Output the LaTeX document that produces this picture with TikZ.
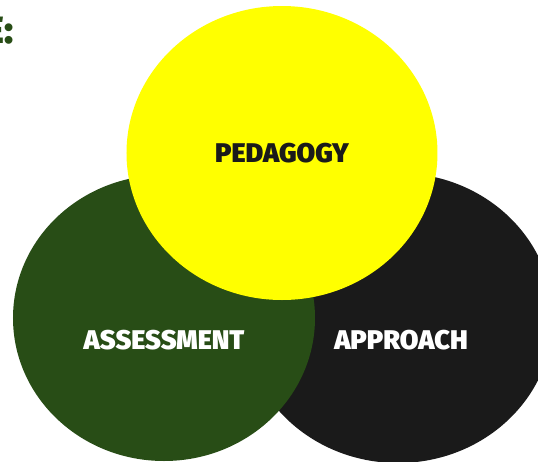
\documentclass[tikz,border=0pt]{standalone}
\usepackage{fontspec}
\setmainfont{Fira Sans}[BoldFont={Fira Sans Black}]
\usetikzlibrary{positioning,shapes.geometric}
\definecolor{sun}{HTML}{FFFF00}
\definecolor{moss}{HTML}{284D16}
\definecolor{ink}{HTML}{1A1A1A}

\begin{document}
\begin{tikzpicture}[x=0.5pt, y=-0.5pt,
      blob/.style={ellipse, inner sep=0pt, draw=none},
      lbl/.style={font=\fontsize{13.5}{16}\selectfont\bfseries, inner sep=0pt}]
    \useasboundingbox (0,0) rectangle (538,462);
    \clip (0,0) rectangle (538,462);
    % three overlapping fields, back to front
    \node[blob, fill=ink, minimum width=155pt, minimum height=145pt] (appr) at (398,318) {};
    \node[blob, fill=moss, minimum width=151pt, minimum height=143pt] (asse) at (164,318) {};
    \node[blob, fill=sun, minimum width=155.5pt, minimum height=147pt] (peda) at (282,153) {};
    % labels
    \node[lbl, text=ink] (pedaTxt) at (peda.center) {PEDAGOGY};
    \node[lbl, text=white, below=11pt of asse.center, anchor=center] (asseTxt) {ASSESSMENT};
    \node[lbl, text=white, below=11pt of appr.center, anchor=center, xshift=1.5pt] (apprTxt) {APPROACH};
    % heading running off the left edge
    \node[font=\fontsize{19}{22}\selectfont\bfseries, text=moss, inner sep=0pt, anchor=base east] (head) at (14,43) {E:};
\end{tikzpicture}
\end{document}
